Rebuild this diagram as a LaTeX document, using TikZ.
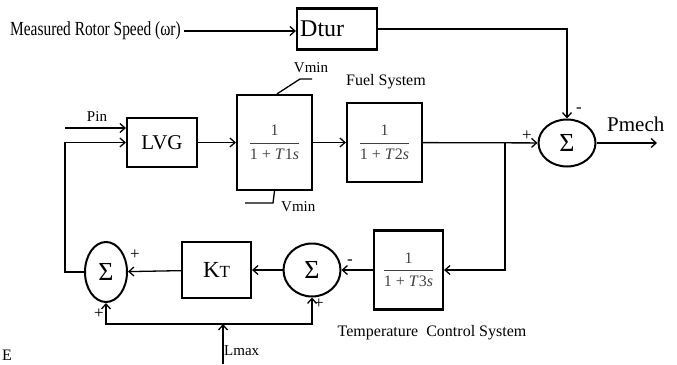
\documentclass[tikz,border=0pt]{standalone}
\usepackage{fontspec}
\setmainfont{Liberation Serif}
\usetikzlibrary{arrows.meta,shapes.geometric}
\newcommand{\fs}[1]{\fontsize{#1}{#1}\selectfont}
\newcommand{\myfrac}[1]{\fs{16}\color{black!75}$\displaystyle{\hbox{1}\above 1.3pt\hbox{1 + \textit{T}#1\textit{s}}}$}
\begin{document}
\begin{tikzpicture}[x=1pt,y=-1pt,
  blk/.style={draw,line width=2.2pt,inner sep=0pt},
  sumnode/.style={draw,ellipse,line width=2pt,inner sep=0pt,font=\fs{26}},
  con/.style={line width=1.3pt,-{Straight Barb[length=5pt,width=9pt]}},
  ln/.style={line width=1.3pt},
  lbl/.style={inner sep=0pt,font=\fs{15}},
  sgn/.style={inner sep=0pt,font=\fs{17}}]
\useasboundingbox (0,0) rectangle (677,364);
% top row
\node[anchor=west,inner sep=0pt,font=\fs{20}] (meas) at (10,31) {\scalebox{0.77}[1]{Measured Rotor Speed (ωr)}};
\node[blk,minimum width=80,minimum height=41] (dtur) at (337,29) {};
\node[anchor=west,inner sep=0pt,font=\fs{24}] (dturt) at (300,29) {Dtur};
\draw[con] ([xshift=3pt]meas.east) -- (dtur.west |- meas.east);
\node[sumnode,minimum width=57,minimum height=47] (sum) at (567,143) {Σ};
\draw[con] (dtur.east) -| (sum.north);
\node[sgn] (sgnA) at (579,110) {-};
\node[sgn] (sgnB) at (527,136) {+};
\coordinate (pout) at (657,143);
\draw[con] (sum.east) -- (pout);
\node[anchor=west,inner sep=0pt,font=\fs{21}] (pmech) at (607,124) {Pmech};
% forward path
\node[blk,minimum width=70,minimum height=49,font=\fs{21}] (lvg) at (162,142.5) {LVG};
\coordinate (pinS) at (65,128);
\draw[con] (pinS) -- (lvg.west |- pinS);
\node[lbl] (pin) at (97,117) {Pin};
\node[blk,minimum width=75,minimum height=95] (t1) at (274.5,142.5) {\myfrac{1}};
\node[blk,minimum width=75,minimum height=79] (t2) at (384.5,142.5) {\myfrac{2}};
\node[lbl,font=\fs{16}] (fuel) at (386,82) {Fuel System};
\draw[con] (lvg) -- (t1);
\draw[con] (t1) -- (t2);
\draw[con] (t2) -- (sum);
% Vmin limits
\coordinate (vt1) at (300,79);
\coordinate (vt2) at (312,79);
\draw[ln] ([xshift=2.5pt]t1.north) -- (vt1) -- (vt2);
\node[lbl] (vminT) at (311,68) {Vmin};
\coordinate (vb1) at (273,203);
\coordinate (vb2) at (245,203);
\draw[ln] (t1.south) -- (vb1) -- (vb2);
\node[lbl,anchor=west] (vminB) at (281,207) {Vmin};
% feedback path
\coordinate (br) at (505,143);
\node[blk,minimum width=69,minimum height=79] (t3) at (408.5,270) {\myfrac{3}};
\draw[con] (br) |- (t3.east);
\node[lbl,font=\fs{16}] (tcs) at (432,333) {Temperature\ \ Control System};
\node[sumnode,minimum width=57,minimum height=53] (sum2) at (312,270) {Σ};
\draw[con] (t3) -- (sum2);
\node[sgn] (sgnC) at (350,262) {-};
\node[sgn] (sgnD) at (319,304) {+};
\node[blk,minimum width=69,minimum height=56] (kt) at (216.5,270) {\fs{23}K\fs{17}T};
\draw[con] (sum2) -- (kt);
\node[sumnode,minimum width=42,minimum height=60] (sum1) at (106,272) {Σ};
\draw[con] (kt) -- (sum1);
\node[sgn] (sgnE) at (135,255) {+};
\node[sgn] (sgnF) at (99,314) {+};
\draw[con] (sum1.west) -- ++(-19,0) |- (lvg.west);
% Lmax
\coordinate (lmS) at (223,364);
\coordinate (lmJ) at (223,324);
\draw[con] (lmS) -- (lmJ);
\draw[con] (lmJ) -| (sum1.south);
\draw[con] (lmJ) -| (sum2.south);
\node[lbl,anchor=west] (lmax) at (224,351) {Lmax};
\node[anchor=base west,inner sep=0pt,font=\fs{16}] (stray) at (2,360) {E};
\end{tikzpicture}
\end{document}
